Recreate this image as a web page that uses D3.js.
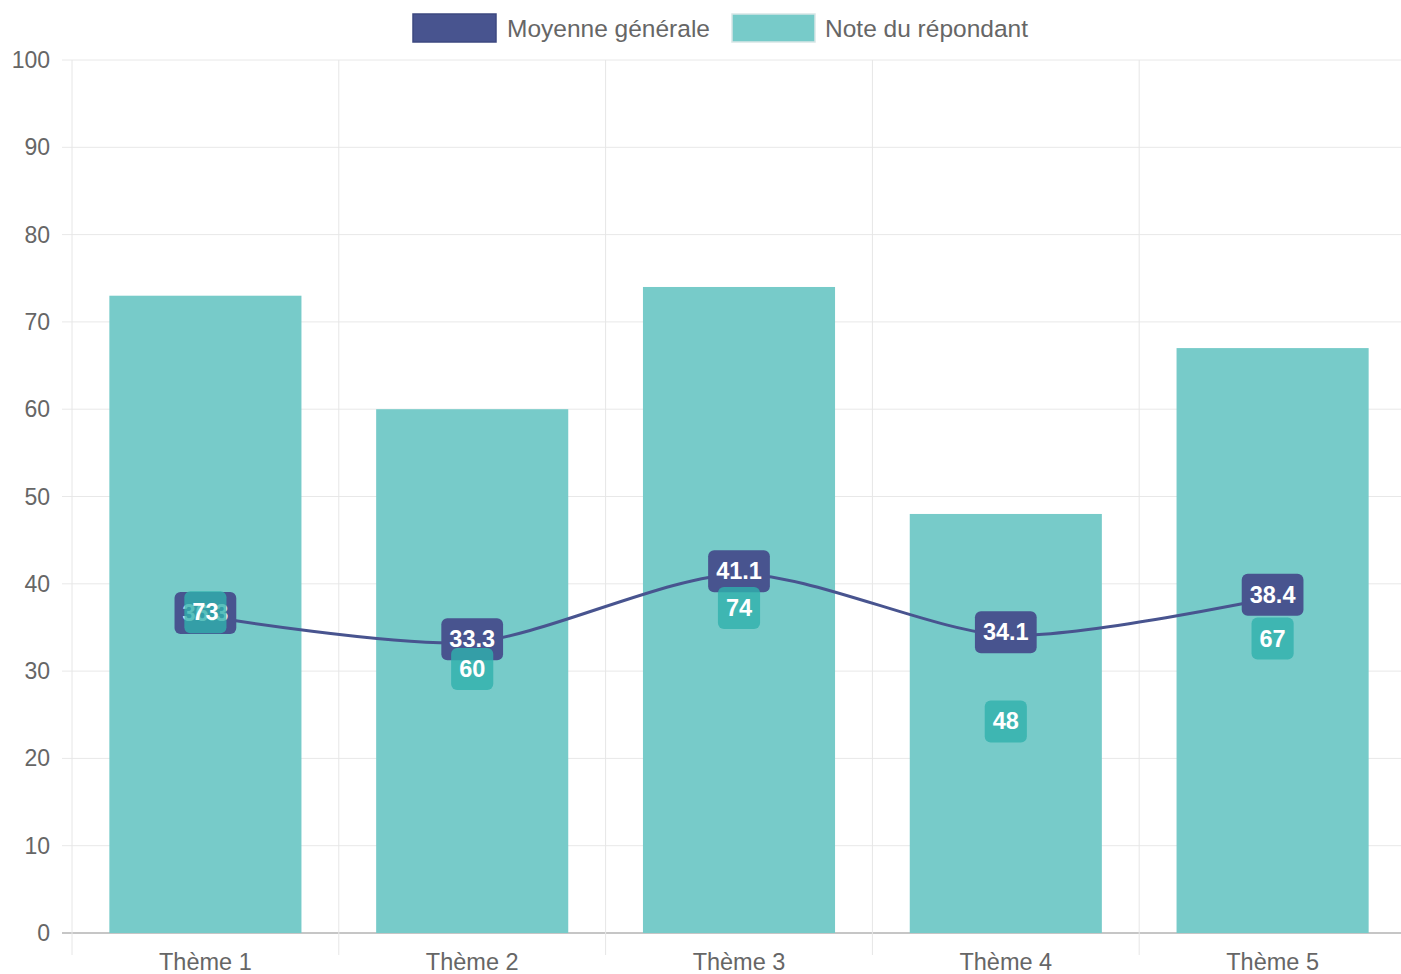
<!DOCTYPE html>
<html><head><meta charset="utf-8">
<script src="https://cdn.jsdelivr.net/npm/d3@7"></script>
<style>body{margin:0;background:#fff}svg{display:block}</style>
</head><body><svg id="c" width="1401" height="974"></svg>
<script>
const categories = ["Thème 1","Thème 2","Thème 3","Thème 4","Thème 5"];
const moyenneGenerale = [36.3, 33.3, 41.1, 34.1, 38.4];
const noteRepondant = [73, 60, 74, 48, 67];
const yTicks = [0,10,20,30,40,50,60,70,80,90,100];
const seriesNames = ["Moyenne générale","Note du répondant"];

const svg = d3.select("#c");
const font = "'Liberation Sans', Arial, sans-serif";
const m = {l:72, r:1406, t:60, b:933};
const x = d3.scaleBand().domain(categories).range([m.l, m.r]).paddingInner(0).paddingOuter(0);
const y = d3.scaleLinear().domain([0,100]).range([m.b, m.t]);
const navy = "#48548f", teal = "#77cbc9";

// horizontal grid
const g = svg.append("g");
g.selectAll(".hg").data(yTicks).join("line")
  .attr("x1", m.l-10).attr("x2", 1401).attr("y1", d=>y(d)).attr("y2", d=>y(d))
  .attr("stroke", d=> d===0 ? "#b3b3b3" : "#e8e8e8").attr("stroke-width", d=>d===0?1.5:1);
// vertical grid at category boundaries
const bounds = categories.map(c=>x(c));
g.selectAll(".vg").data(bounds).join("line")
  .attr("x1", d=>d).attr("x2", d=>d).attr("y1", m.t).attr("y2", m.b+22)
  .attr("stroke", "#e6e6e6").attr("stroke-width", 1);
// y labels
g.selectAll(".yl").data(yTicks).join("text")
  .attr("x", 50).attr("y", d=>y(d)).attr("text-anchor","end").attr("dominant-baseline","central")
  .attr("font-family", font).attr("font-size", 23).attr("fill","#666").text(d=>d);
// x labels
g.selectAll(".xl").data(categories).join("text")
  .attr("x", d=>x(d)+x.bandwidth()/2).attr("y", 962).attr("text-anchor","middle").attr("dominant-baseline","central")
  .attr("font-family", font).attr("font-size", 23.5).attr("fill","#666").text(d=>d);

// bars
const bw = x.bandwidth()*0.72;
svg.append("g").selectAll("rect").data(noteRepondant).join("rect")
  .attr("x", (d,i)=>x(categories[i])+(x.bandwidth()-bw)/2).attr("width", bw)
  .attr("y", d=>y(d)).attr("height", d=>y(0)-y(d)).attr("fill", teal);

// line
const pts = moyenneGenerale.map((v,i)=>[x(categories[i])+x.bandwidth()/2, y(v)]);
svg.append("path").attr("d", d3.line().curve(d3.curveCardinal.tension(0.2))(pts))
  .attr("fill","none").attr("stroke", navy).attr("stroke-width", 3);

// labels
const fs = 23.5;
function label(gsel, txt, cx, cy, fill, opacity){
  const t = gsel.append("text").attr("x",cx).attr("y",cy).attr("text-anchor","middle").attr("dominant-baseline","central")
    .attr("font-family",font).attr("font-weight","bold").attr("font-size",fs).attr("fill","#fff").text(txt);
  const w = t.node().getComputedTextLength();
  gsel.insert("rect", "text:last-child").attr("x", cx-w/2-8).attr("y", cy-21).attr("width", w+16).attr("height", 42)
    .attr("rx",6).attr("fill",fill).attr("fill-opacity",opacity);
}
const ll = svg.append("g");
moyenneGenerale.forEach((v,i)=>{ const gg = ll.append("g"); label(gg, String(v), pts[i][0], pts[i][1]-3, navy, 1); });
const bl = svg.append("g");
noteRepondant.forEach((v,i)=>{ const gg = bl.append("g"); label(gg, String(v), x(categories[i])+x.bandwidth()/2, y(v/2)-2, "#2fb0ac", 0.8); });

// legend
const lg = svg.append("g");
const leg = [{n:seriesNames[0], c:navy, bx:413, tx:507},{n:seriesNames[1], c:teal, bx:732, tx:825}];
leg.forEach(l=>{
  lg.append("rect").attr("x",l.bx).attr("y",14).attr("width",83).attr("height",28).attr("fill",l.c)
    .attr("stroke", l===leg[0]?"#3d4880":"#d8e6e6").attr("stroke-width",1.5);
  lg.append("text").attr("x",l.tx).attr("y",28).attr("dominant-baseline","central").attr("font-family",font)
    .attr("font-size",24.5).attr("fill","#666").text(l.n);
});
</script></body></html>
